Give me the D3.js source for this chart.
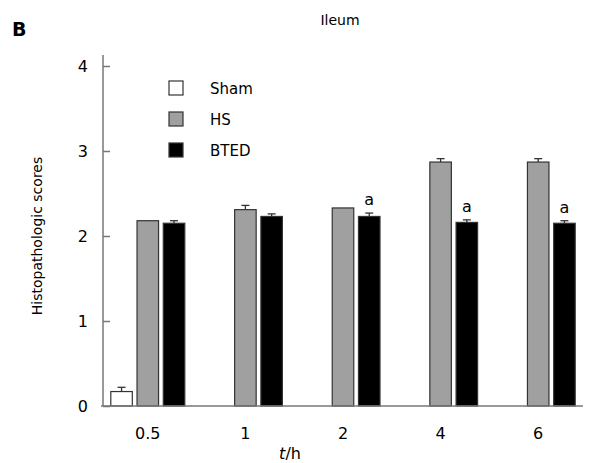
<!DOCTYPE html>
<html>
<head>
<meta charset="utf-8">
<script src="https://cdn.jsdelivr.net/npm/d3@7"></script>
<style>
  body { margin: 0; background: #fff; }
  svg text { font-family: Tahoma, "DejaVu Sans", Verdana, sans-serif; fill: #000; }
</style>
</head>
<body>
<svg id="svg" width="606" height="463"></svg>
<script>
// data
var categories = ['0.5', '1', '2', '4', '6'];
var series = ['Sham', 'HS', 'BTED'];
var shamValues = [0.17, 0, 0, 0, 0];
var shamErrors = [0.05, 0, 0, 0, 0];
var hsValues = [2.18, 2.31, 2.33, 2.87, 2.87];
var hsErrors = [0, 0.05, 0, 0.04, 0.04];
var btedValues = [2.15, 2.23, 2.23, 2.16, 2.15];
var btedErrors = [0.03, 0.03, 0.04, 0.03, 0.03];
var btedMarks = ['', '', 'a', 'a', 'a'];
var yTicks = [0, 1, 2, 3, 4];
var colors = { Sham: '#ffffff', HS: '#a0a0a0', BTED: '#000000' };

var rows = [];
categories.forEach(function (c, i) {
  rows.push({ cat: c, s: 'Sham', value: shamValues[i], err: shamErrors[i], mark: '' });
  rows.push({ cat: c, s: 'HS', value: hsValues[i], err: hsErrors[i], mark: '' });
  rows.push({ cat: c, s: 'BTED', value: btedValues[i], err: btedErrors[i], mark: btedMarks[i] });
});

var svg = d3.select('svg');

var x0 = d3.scaleBand()
  .domain(categories)
  .range([99, 587]);

var x1 = d3.scaleBand()
  .domain(series)
  .range([-37, 37])
  .paddingInner(0.18);

var y = d3.scaleLinear()
  .domain([0, 4])
  .range([406, 66]);

var axisColor = '#777';

// y axis, ticks pointing inward
var yAxis = svg.append('g')
  .attr('transform', 'translate(103,0)')
  .call(d3.axisLeft(y).tickValues(yTicks).tickSize(-7).tickSizeOuter(0).tickPadding(15).tickFormat(d3.format('d')));
yAxis.select('.domain').remove();
yAxis.selectAll('.tick line').attr('stroke', axisColor).attr('stroke-width', 1.5);
yAxis.selectAll('.tick text').style('font-size', '16px');
yAxis.append('line')
  .attr('x1', 0).attr('x2', 0)
  .attr('y1', y(0)).attr('y2', y(4.13))
  .attr('stroke', axisColor).attr('stroke-width', 1.5);

// x axis, labels only
var xAxis = svg.append('g')
  .attr('transform', 'translate(0,' + y(0) + ')')
  .call(d3.axisBottom(x0).tickSize(0).tickPadding(22));
xAxis.select('.domain').remove();
xAxis.selectAll('.tick text').style('font-size', '16px');

var groups = svg.selectAll('.grp')
  .data(rows.filter(function (d) { return d.value > 0; }))
  .enter()
  .append('g')
  .attr('transform', function (d) {
    return 'translate(' + (x0(d.cat) + x0.bandwidth() / 2) + ',0)';
  });

// error bars (drawn first so the bar covers the lower half)
groups.filter(function (d) { return d.err > 0; })
  .append('line')
  .attr('x1', function (d) { return x1(d.s) + x1.bandwidth() / 2; })
  .attr('x2', function (d) { return x1(d.s) + x1.bandwidth() / 2; })
  .attr('y1', function (d) { return y(d.value); })
  .attr('y2', function (d) { return y(d.value + d.err); })
  .attr('stroke', '#333').attr('stroke-width', 1.3);
groups.filter(function (d) { return d.err > 0; })
  .append('line')
  .attr('x1', function (d) { return x1(d.s) + x1.bandwidth() / 2 - 4; })
  .attr('x2', function (d) { return x1(d.s) + x1.bandwidth() / 2 + 4; })
  .attr('y1', function (d) { return y(d.value + d.err); })
  .attr('y2', function (d) { return y(d.value + d.err); })
  .attr('stroke', '#333').attr('stroke-width', 1.3);

groups.append('rect')
  .attr('x', function (d) { return x1(d.s); })
  .attr('y', function (d) { return y(d.value); })
  .attr('width', x1.bandwidth())
  .attr('height', function (d) { return y(0) - y(d.value); })
  .attr('fill', function (d) { return colors[d.s]; })
  .attr('stroke', '#333')
  .attr('stroke-width', 1.2);

groups.filter(function (d) { return d.mark; })
  .append('text')
  .attr('x', function (d) { return x1(d.s) + x1.bandwidth() / 2; })
  .attr('y', function (d) { return y(d.value + d.err) - 8; })
  .attr('text-anchor', 'middle')
  .style('font-size', '16px')
  .text(function (d) { return d.mark; });

// x axis line on top of bars
svg.append('line')
  .attr('x1', 101).attr('x2', 583)
  .attr('y1', y(0)).attr('y2', y(0))
  .attr('stroke', axisColor).attr('stroke-width', 1.5);

// legend
var legend = svg.selectAll('.leg')
  .data(series)
  .enter()
  .append('g')
  .attr('transform', function (d, i) { return 'translate(169,' + (81 + i * 31) + ')'; });
legend.append('rect')
  .attr('width', 14).attr('height', 14)
  .attr('fill', function (d) { return colors[d]; })
  .attr('stroke', '#333').attr('stroke-width', 1.2);
legend.append('text')
  .attr('x', 41).attr('y', 12.5)
  .style('font-size', '15px')
  .text(function (d) { return d; });

// titles
svg.append('text')
  .attr('x', 12).attr('y', 36)
  .style('font-size', '19px').style('font-weight', 'bold')
  .text('B');

svg.append('text')
  .attr('x', 340).attr('y', 25)
  .attr('text-anchor', 'middle')
  .style('font-size', '14px')
  .text('Ileum');

svg.append('text')
  .attr('transform', 'translate(42,236) rotate(-90)')
  .attr('text-anchor', 'middle')
  .style('font-size', '14px')
  .text('Histopathologic scores');

var xl = svg.append('text')
  .attr('x', 290).attr('y', 459)
  .attr('text-anchor', 'middle')
  .style('font-size', '16px');
xl.append('tspan').style('font-style', 'italic').text('t');
xl.append('tspan').text('/h');
</script>
</body>
</html>
